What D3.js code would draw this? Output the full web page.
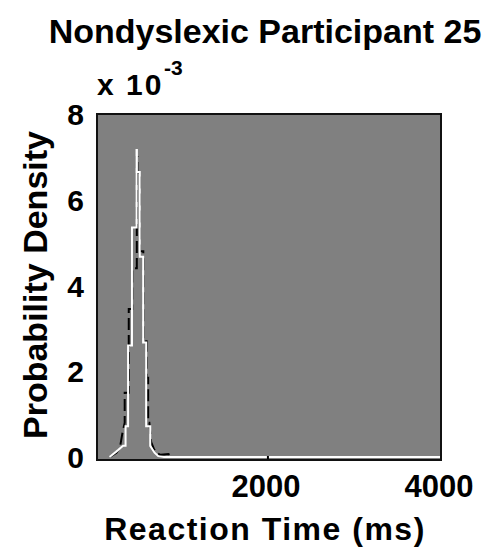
<!DOCTYPE html>
<html>
<head>
<meta charset="utf-8">
<script src="https://cdn.jsdelivr.net/npm/d3@7"></script>
<style>
  html, body { margin: 0; padding: 0; background: #fff; }
  svg { display: block; }
  text { font-family: "Liberation Sans", Arial, Helvetica, sans-serif; font-weight: bold; fill: #000; }
</style>
</head>
<body>
<script>
// ---- data ----
const titleText = "Nondyslexic Participant 25";
const xLabelText = "Reaction Time (ms)";
const yLabelText = "Probability Density";
const xTicks = [2000, 4000];
const yTicks = [0, 2, 4, 6, 8];           // in units of 1e-3
const xDomain = [25, 4000];
const yDomain = [0, 8];

// empirical density (white line): reaction time (ms), density (x 1e-3)
const rtWhite   = [170, 244, 326, 355, 355, 384, 384, 429, 429, 482, 482, 486, 486, 519, 519, 558, 558, 593, 593, 640, 640, 690, 733, 800, 4000];
const densWhite = [0.0, 0.12, 0.26, 0.26, 0.72, 0.72, 2.6, 2.6, 5.35, 5.35, 7.16, 7.16, 6.65, 6.65, 4.67, 4.67, 2.67, 2.67, 0.72, 0.72, 0.26, 0.1, 0.02, 0.0, 0.0];

// second density (black dashed line)
const rtBlack   = [175, 250, 290, 318, 345, 345, 392, 392, 432, 432, 485, 485, 492, 492, 522, 522, 560, 560, 598, 598, 616, 616, 630, 651, 680, 709, 760, 850, 900, 4000];
const densBlack = [0.0, 0.1, 0.22, 0.55, 0.8, 1.5, 1.5, 3.45, 3.45, 4.4, 4.4, 7.0, 7.0, 6.6, 6.6, 4.8, 4.8, 2.7, 2.7, 1.85, 1.85, 0.8, 0.8, 0.35, 0.2, 0.1, 0.05, 0.07, 0.0, 0.0];

// ---- layout ----
const W = 491, H = 549;
const mLeft = 97, mRight = 441, mTop = 114, mBottom = 460;

const svg = d3.select("body").append("svg").attr("width", W).attr("height", H);

const x = d3.scaleLinear().domain(xDomain).range([mLeft, mRight]);
const y = d3.scaleLinear().domain(yDomain).range([457, mTop]);

// plot background
svg.append("rect")
  .attr("x", mLeft).attr("y", mTop)
  .attr("width", mRight - mLeft).attr("height", mBottom - mTop)
  .attr("fill", "#808080");

svg.append("clipPath").attr("id", "clip")
  .append("rect").attr("x", mLeft).attr("y", mTop).attr("width", mRight - mLeft).attr("height", mBottom - mTop);

const g = svg.append("g").attr("clip-path", "url(#clip)");

const line = d3.line().x(d => x(d[0])).y(d => y(d[1]));

g.append("path")
  .datum(d3.zip(rtBlack, densBlack))
  .attr("d", line)
  .attr("fill", "none")
  .attr("stroke", "#000")
  .attr("stroke-width", 2)
  .attr("stroke-dasharray", "12,5");

g.append("path")
  .datum(d3.zip(rtWhite, densWhite))
  .attr("d", line)
  .attr("fill", "none")
  .attr("stroke", "#fff")
  .attr("stroke-width", 2);

// inward ticks on bottom axis
svg.append("g").selectAll("line").data(xTicks).join("line")
  .attr("x1", d => x(d)).attr("x2", d => x(d))
  .attr("y1", mBottom).attr("y2", mBottom - 4)
  .attr("stroke", "#000").attr("stroke-width", 2);

// frame
svg.append("rect")
  .attr("x", mLeft).attr("y", mTop)
  .attr("width", mRight - mLeft).attr("height", mBottom - mTop)
  .attr("fill", "none").attr("stroke", "#111").attr("stroke-width", 2);

// x tick labels
svg.append("g").selectAll("text").data(xTicks).join("text")
  .attr("x", d => x(d) - 2).attr("y", 497)
  .attr("text-anchor", "middle")
  .style("font-size", "31px")
  .text(d => d3.format("d")(d));

// y tick labels
svg.append("g").selectAll("text").data(yTicks).join("text")
  .attr("x", 84).attr("y", d => y(d) + 11)
  .attr("text-anchor", "end")
  .style("font-size", "30px")
  .text(d => d);

// exponent label
svg.append("text").attr("x", 97).attr("y", 95)
  .style("font-size", "30px").style("letter-spacing", "2px")
  .text("x 10");
svg.append("text").attr("x", 164).attr("y", 75)
  .style("font-size", "21px")
  .text("-3");

// title
svg.append("text")
  .attr("x", 265).attr("y", 43)
  .attr("text-anchor", "middle")
  .style("font-size", "34px")
  .text(titleText);

// x label
svg.append("text")
  .attr("x", 265).attr("y", 540)
  .attr("text-anchor", "middle")
  .style("font-size", "32px")
  .style("letter-spacing", "1.5px")
  .text(xLabelText);

// y label
svg.append("text")
  .attr("transform", "translate(47,285) rotate(-90)")
  .attr("text-anchor", "middle")
  .style("font-size", "34px")
  .text(yLabelText);
</script>
</body>
</html>
